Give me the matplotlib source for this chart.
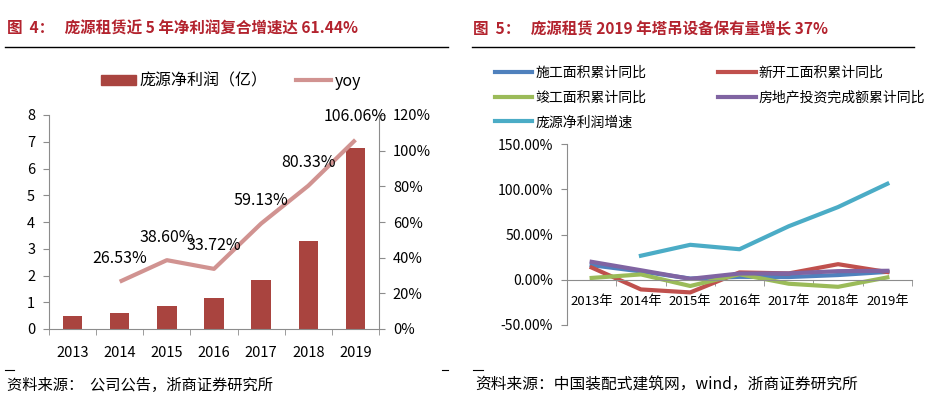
import numpy as np, matplotlib; matplotlib.use('Agg'); import matplotlib.pyplot as plt
from matplotlib.ticker import FuncFormatter, FixedLocator
from matplotlib.lines import Line2D
from matplotlib.patches import Patch
plt.rcParams['font.family']=['Noto Sans CJK SC','DejaVu Sans']

# fig 4 data
years=['2013','2014','2015','2016','2017','2018','2019']
profit=[0.49,0.61,0.86,1.15,1.82,3.28,6.77]
yoy=[np.nan,26.53,38.60,33.72,59.13,80.33,106.06]
# fig 5 data (cumulative yoy, %)
years5=['2013年','2014年','2015年','2016年','2017年','2018年','2019年']
shigong=[16.1,9.2,1.3,3.2,3.0,5.2,8.7]
xinkai=[13.5,-10.7,-14.0,8.1,7.0,17.2,8.5]
jungong=[2.0,5.9,-6.9,6.1,-4.4,-7.8,2.6]
touzi=[19.8,10.5,1.0,6.9,7.0,9.5,9.9]
pangyuan=[np.nan,26.53,38.60,33.72,59.13,80.33,106.06]

RED='#B3232E'; GREY='#8C8C8C'
fig=plt.figure(figsize=(9.36,3.99),dpi=100)

# titles + rules
fig.text(7/936,1-29/399,'图  4：   庞源租赁近 5 年净利润复合增速达 61.44%',color=RED,fontsize=11.2,fontweight='bold',va='center')
fig.text(473/936,1-29/399,'图  5：   庞源租赁 2019 年塔吊设备保有量增长 37%',color=RED,fontsize=11.2,fontweight='bold',va='center')
fig.add_artist(Line2D([5/936,448/936],[1-47/399]*2,color='k',lw=1))
fig.add_artist(Line2D([472/936,914/936],[1-47/399]*2,color='k',lw=1))
# footers
for x0,x1 in [(5,14),(442,448),(473,483)]:
    fig.add_artist(Line2D([x0/936,x1/936],[1-370/399]*2,color='k',lw=0.8))
fig.text(7/936,1-385/399,'资料来源：  公司公告，浙商证券研究所',fontsize=11,va='center')
fig.text(475/936,1-385/399,'资料来源：中国装配式建筑网，wind，浙商证券研究所',fontsize=11.3,va='center')

# ---- left chart
x=np.arange(len(years))
ax=fig.add_axes([49/936,1-329/399,330/936,214/399])
ax.bar(x,profit,width=0.41,color='#A9443F',zorder=2)
ax.set_xlim(-0.5,6.5); ax.set_ylim(0,8); ax.set_yticks(range(9))
ax.set_xticks(x); ax.set_xticklabels(years,fontsize=10.5)
ax.xaxis.set_minor_locator(FixedLocator(np.arange(-0.5,7,1)))
ax.tick_params(axis='x',which='major',length=0,pad=12)
ax.tick_params(axis='x',which='minor',length=4,color=GREY)
ax.tick_params(axis='y',labelsize=10.5,color=GREY,length=4,pad=6)
for s in ['top','right']: ax.spines[s].set_visible(False)
for s in ['left','bottom']: ax.spines[s].set_color(GREY)
ax2=ax.twinx()
ax2.plot(x,yoy,color='#D19391',lw=3,solid_capstyle='butt')
ax2.set_ylim(0,120); ax2.set_yticks(range(0,121,20))
ax2.yaxis.set_major_formatter(FuncFormatter(lambda v,p:f'{v:.0f}%'))
ax2.tick_params(axis='y',labelsize=10.5,color=GREY,length=4,pad=6)
for s in ['top','left','bottom']: ax2.spines[s].set_visible(False)
ax2.spines['right'].set_color(GREY)
for xi,v in zip(x,yoy):
    if np.isnan(v): continue
    ax2.annotate(f'{v:.2f}%',(xi,v),xytext=(0,23),textcoords='offset pixels',ha='center',va='center',fontsize=11.5)
fig.legend([Patch(color='#A9443F'),Line2D([],[],color='#D19391',lw=3)],['庞源净利润（亿）','yoy'],
           ncol=2,loc='center',bbox_to_anchor=(231/936,1-81/399),frameon=False,fontsize=11.5,
           handlelength=2.2,handleheight=0.65,handletextpad=0.2,columnspacing=1.8)

# ---- right chart
ax3=fig.add_axes([567/936,1-325/399,345/936,181/399])
series=[('施工面积累计同比',shigong,'#4F81BD'),('新开工面积累计同比',xinkai,'#C0504D'),
        ('竣工面积累计同比',jungong,'#9BBB59'),('房地产投资完成额累计同比',touzi,'#8064A2'),
        ('庞源净利润增速',pangyuan,'#4BACC6')]
hs={}
for nm,vals,c in series:
    hs[nm],=ax3.plot(x,vals,color=c,lw=3,label=nm)
ax3.set_xlim(-0.5,6.5); ax3.set_ylim(-50,150); ax3.set_yticks(range(-50,151,50))
ax3.yaxis.set_major_formatter(FuncFormatter(lambda v,p:f'{v:.2f}%'))
ax3.spines['bottom'].set_position(('data',0))
ax3.set_xticks(x); ax3.set_xticklabels(years5,fontsize=9.5)
ax3.xaxis.set_minor_locator(FixedLocator(np.arange(0.5,7,1)))
ax3.tick_params(axis='x',which='major',length=0,pad=11)
ax3.tick_params(axis='x',which='minor',length=4,color=GREY)
ax3.tick_params(axis='y',labelsize=10,color=GREY,length=4,pad=6)
for s in ['top','right']: ax3.spines[s].set_visible(False)
for s in ['left','bottom']: ax3.spines[s].set_color(GREY)
order=['施工面积累计同比','竣工面积累计同比','庞源净利润增速','新开工面积累计同比','房地产投资完成额累计同比']
fig.legend([hs[n] for n in order],order,ncol=2,loc='upper left',bbox_to_anchor=(488/936,1-59/399),
           frameon=False,fontsize=10,handlelength=2.7,handletextpad=0.2,columnspacing=5.2,
           labelspacing=0.77,borderpad=0)

fig.savefig('out.png',dpi=100)
